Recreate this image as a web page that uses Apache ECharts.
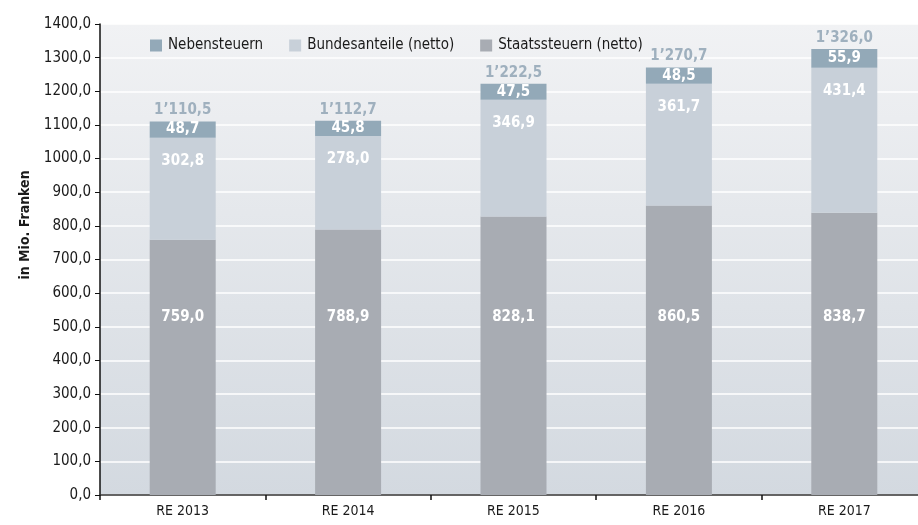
<!DOCTYPE html>
<html><head><meta charset="utf-8">
<script src="https://cdn.jsdelivr.net/npm/echarts@6/dist/echarts.min.js"></script>
<style>html,body{margin:0;padding:0;background:#fff;overflow:hidden;width:918px;height:525px}#c{width:930px;height:525px}</style>
</head><body><div id="c"></div>
<script>
const categories = ['RE 2013','RE 2014','RE 2015','RE 2016','RE 2017'];
const staatssteuern = [759.0, 788.9, 828.1, 860.5, 838.7];
const bundesanteile = [302.8, 278.0, 346.9, 361.7, 431.4];
const nebensteuern = [48.7, 45.8, 47.5, 48.5, 55.9];
const totals = [1110.5, 1112.7, 1222.5, 1270.7, 1326.0];

const FONT = '"Liberation Sans Narrow","DejaVu Sans Condensed","Noto Sans",sans-serif';
function fmt(v){
  const s = v.toFixed(1).split('.');
  const int = s[0].replace(/\B(?=(\d{3})+(?!\d))/g, '\u2019');
  return int + ',' + s[1];
}
function fmtAxis(v){ return v.toFixed(1).replace('.', ','); }
const chart = echarts.init(document.getElementById('c'), null, {renderer:'canvas'});
chart.setOption({
  animation:false,
  textStyle:{fontFamily:FONT},
  grid:{left:100, top:24, right:3, bottom:30, show:true, borderWidth:0,
    backgroundColor:new echarts.graphic.LinearGradient(0,0,0,1,[{offset:0,color:'#f1f2f4'},{offset:1,color:'#d3d9e0'}])},
  legend:{
    data:['Nebensteuern','Bundesanteile (netto)','Staatssteuern (netto)'],
    left:145, top:33, icon:'rect', itemWidth:12, itemHeight:12, itemGap:26,
    textStyle:{fontFamily:FONT, fontSize:15, color:'#1a1a1a', padding:[0,0,0,1]}
  },
  graphic:[{type:'text', x:25, y:225, rotation:Math.PI/2,
    style:{text:'in Mio. Franken', fontFamily:FONT, fontSize:14, fontWeight:'bold', fill:'#1a1a1a', textAlign:'center', textVerticalAlign:'middle'}}],
  xAxis:{type:'category', data:categories, boundaryGap:true,
    axisLine:{lineStyle:{color:'#333', width:1.5}},
    axisTick:{show:true, length:5, lineStyle:{color:'#111', width:1.5}},
    axisLabel:{fontFamily:FONT, fontSize:14, color:'#1a1a1a', margin:9}},
  yAxis:{type:'value', min:0, max:1400, interval:100,
    axisLine:{show:true, lineStyle:{color:'#111', width:1.5}},
    axisTick:{show:true, length:5, lineStyle:{color:'#111'}},
    axisLabel:{fontFamily:FONT, fontSize:15, color:'#1a1a1a', margin:9, formatter:v=>fmtAxis(v)},
    splitLine:{show:true, lineStyle:{color:'#ffffff', width:1.5}}},
  series:[
    {name:'Staatssteuern (netto)', type:'bar', stack:'a', data:staatssteuern, barWidth:66,
      itemStyle:{color:'#a8acb3'},
      label:{show:true, position:'insideBottom', distance:170, color:'#fff', fontWeight:'bold', fontSize:15, fontFamily:FONT, formatter:p=>fmt(p.value)}},
    {name:'Bundesanteile (netto)', type:'bar', stack:'a', data:bundesanteile, barWidth:66,
      itemStyle:{color:'#c8d0d9'},
      label:{show:true, position:'insideTop', distance:16, color:'#fff', fontWeight:'bold', fontSize:15, fontFamily:FONT, formatter:p=>fmt(p.value)}},
    {name:'Nebensteuern', type:'bar', stack:'a', data:nebensteuern, barWidth:66,
      itemStyle:{color:'#93a9b8'},
      label:{show:true, position:'inside', color:'#fff', fontWeight:'bold', fontSize:15, fontFamily:FONT, formatter:p=>fmt(p.value)}},
    {name:'Total', type:'line', data:totals, showSymbol:true, symbol:'circle', symbolSize:1,
      lineStyle:{color:'rgba(0,0,0,0)', width:0}, itemStyle:{color:'rgba(0,0,0,0)'}, silent:true,
      label:{show:true, position:'top', distance:3, color:'#9fb0be', fontWeight:'bold', fontSize:15, fontFamily:FONT, formatter:p=>fmt(p.value)}}
  ]
});
</script></body></html>
